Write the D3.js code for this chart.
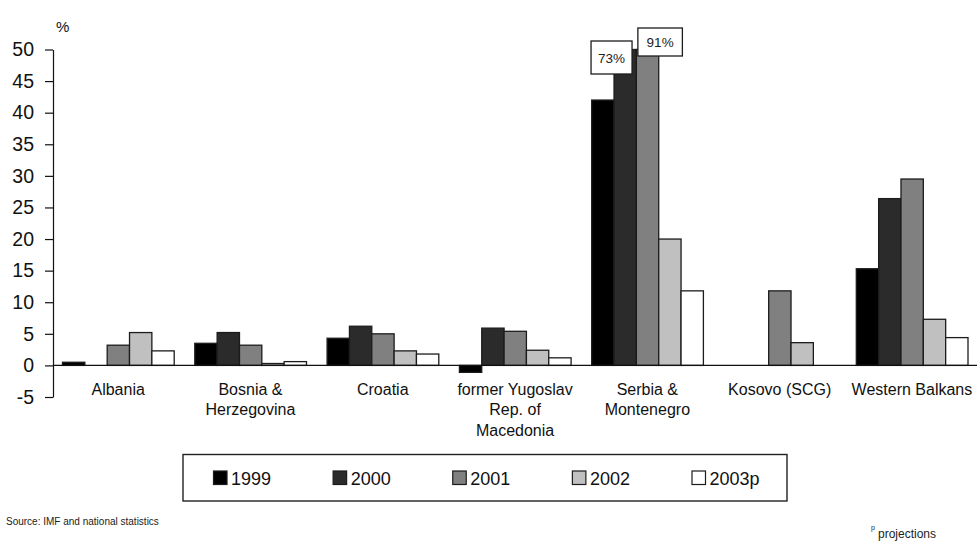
<!DOCTYPE html>
<html>
<head>
<meta charset="utf-8">
<script src="https://cdn.jsdelivr.net/npm/d3@7"></script>
<style>
  html, body { margin: 0; padding: 0; background: #fff; }
  svg { display: block; font-family: "Liberation Sans", Arial, Helvetica, sans-serif; }
</style>
</head>
<body>
<svg id="chart" width="977" height="544"></svg>
<script>
// Real GDP inflation, % change by country
const categories = [
  ["Albania"],
  ["Bosnia &", "Herzegovina"],
  ["Croatia"],
  ["former Yugoslav", "Rep. of", "Macedonia"],
  ["Serbia &", "Montenegro"],
  ["Kosovo (SCG)"],
  ["Western Balkans"]
];
const seriesNames = ["1999", "2000", "2001", "2002", "2003p"];
const v1999 = [0.5, 3.5, 4.3, -1.1, 42.0, null, 15.3];
const v2000 = [null, 5.2, 6.2, 5.9, 73, null, 26.4];
const v2001 = [3.2, 3.2, 5.0, 5.4, 91, 11.8, 29.5];
const v2002 = [5.2, 0.3, 2.3, 2.4, 20.0, 3.6, 7.3];
const v2003 = [2.3, 0.6, 1.8, 1.2, 11.8, null, 4.4];
const yTicks = [-5, 0, 5, 10, 15, 20, 25, 30, 35, 40, 45, 50];
// Bars above the axis maximum are cut at 50 and carry their value in a box
const offScale = [{ cat: 4, series: 1 }, { cat: 4, series: 2 }];

const fills = ["#000000", "#2b2b2b", "#808080", "#c0c0c0", "#ffffff"];
const seriesValues = [v1999, v2000, v2001, v2002, v2003];

const svg = d3.select("#chart");

const x0 = d3.scaleBand()
  .domain(d3.range(categories.length))
  .range([52.5, 978.6])
  .paddingInner(0).paddingOuter(0);

const x1 = d3.scaleBand()
  .domain(d3.range(seriesNames.length))
  .range([10, x0.bandwidth() - 10.6])
  .padding(0);

const y = d3.scaleLinear()
  .domain([-5, 50])
  .range([397, 49.5])
  .clamp(true);

// bars
const g = svg.append("g");
seriesValues.forEach((vals, si) => {
  g.selectAll(null)
    .data(vals.map((v, ci) => ({ v, ci })).filter(d => d.v !== null))
    .join("rect")
    .attr("x", d => x0(d.ci) + x1(si))
    .attr("width", x1.bandwidth())
    .attr("y", d => Math.min(y(d.v), y(0)))
    .attr("height", d => Math.abs(y(d.v) - y(0)))
    .attr("fill", fills[si])
    .attr("stroke", "#1c1c1c")
    .attr("stroke-width", 1.3);
});

// y axis
const yAxis = d3.axisLeft(y)
  .tickValues(yTicks)
  .tickSize(8)
  .tickSizeOuter(0)
  .tickPadding(11)
  .tickFormat(d => String(d));

const ya = svg.append("g")
  .attr("transform", "translate(53,0)")
  .call(yAxis);
ya.select(".domain").attr("stroke", "#111").attr("stroke-width", 1.2);
ya.selectAll(".tick line").attr("stroke", "#111").attr("stroke-width", 1.2);
ya.selectAll(".tick text")
  .attr("font-size", 19.5)
  .attr("fill", "#111")
  .attr("font-family", "Liberation Sans, Arial, sans-serif");

// zero line
svg.append("line")
  .attr("x1", 53).attr("x2", 977)
  .attr("y1", y(0)).attr("y2", y(0))
  .attr("stroke", "#111").attr("stroke-width", 1.2);

// unit label
svg.append("text")
  .attr("x", 56).attr("y", 32)
  .attr("font-size", 15)
  .attr("fill", "#111")
  .text("%");

// category labels
const catLabels = svg.append("g")
  .selectAll("text")
  .data(categories)
  .join("text")
  .attr("x", (d, i) => x0(i) + x0.bandwidth() / 2 - 0.5)
  .attr("y", 394.5)
  .attr("text-anchor", "middle")
  .attr("font-size", 16)
  .attr("fill", "#111");
catLabels.selectAll("tspan")
  .data(d => d)
  .join("tspan")
  .attr("x", function () { return d3.select(this.parentNode).attr("x"); })
  .attr("dy", (d, i) => i === 0 ? 0 : 20.5)
  .text(d => d);

// value boxes for bars cut at the axis maximum
const boxSpecs = [
  { dx: -23, w: 41, top: 41, h: 33 },
  { dx: 1.5, w: 44.5, top: 28, h: 28 }
];
offScale.forEach((o, k) => {
  const val = seriesValues[o.series][o.cat];
  const bx = x0(o.cat) + x1(o.series) + boxSpecs[k].dx;
  const spec = boxSpecs[k];
  svg.append("rect")
    .attr("x", bx).attr("y", spec.top)
    .attr("width", spec.w).attr("height", spec.h)
    .attr("fill", "#fff")
    .attr("stroke", "#1c1c1c")
    .attr("stroke-width", 1.3);
  svg.append("text")
    .attr("x", bx + spec.w / 2)
    .attr("y", spec.top + spec.h / 2 + 5)
    .attr("text-anchor", "middle")
    .attr("font-size", 13.5)
    .attr("fill", "#222")
    .text(String(val) + "%");
});

// legend
svg.append("rect")
  .attr("x", 183).attr("y", 454.5)
  .attr("width", 604).attr("height", 46.5)
  .attr("fill", "#fff")
  .attr("stroke", "#222")
  .attr("stroke-width", 1.4);

const legendX = d3.scalePoint()
  .domain(seriesNames)
  .range([213.5, 692]);

const items = svg.append("g")
  .selectAll("g")
  .data(seriesNames)
  .join("g")
  .attr("transform", d => `translate(${legendX(d)},471)`);
items.append("rect")
  .attr("width", 13.5).attr("height", 13.5)
  .attr("fill", (d, i) => fills[i])
  .attr("stroke", "#1c1c1c")
  .attr("stroke-width", 1.2);
items.append("text")
  .attr("x", 17.5).attr("y", 13.5)
  .attr("font-size", 18)
  .attr("fill", "#111")
  .text(d => d);

// footnotes
svg.append("text")
  .attr("x", 6).attr("y", 525)
  .attr("font-size", 10)
  .attr("fill", "#222")
  .text("Source: IMF and national statistics");

svg.append("text")
  .attr("x", 871).attr("y", 530)
  .attr("font-size", 7)
  .attr("fill", "#222")
  .text("p");
svg.append("text")
  .attr("x", 878).attr("y", 538)
  .attr("font-size", 12)
  .attr("fill", "#222")
  .text("projections");
</script>
</body>
</html>
